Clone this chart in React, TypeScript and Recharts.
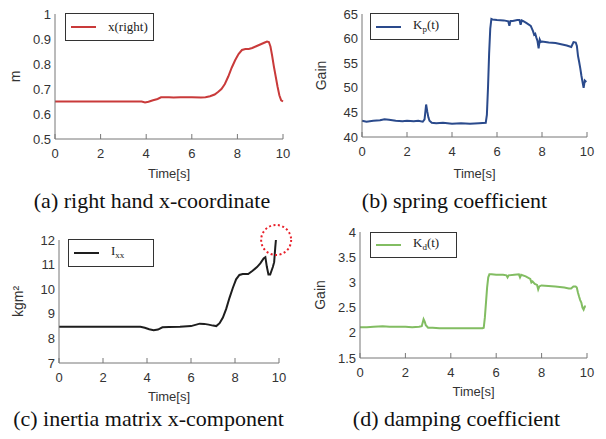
import React from "react";
import { LineChart, Line, XAxis, YAxis, Legend, ReferenceDot } from "recharts";

const timeTicks = [0, 2, 4, 6, 8, 10];

// (a) right hand x-coordinate [m]
const xRightTime = [
  0, 1, 2, 3, 3.8, 3.95, 4.1, 4.3, 4.5, 4.65, 5.0, 5.2, 5.5, 6.0, 6.4, 6.6, 6.8, 7.0, 7.15, 7.3, 7.45,
  7.6, 7.75, 7.9, 8.05, 8.2, 8.35, 8.5, 8.65, 8.8, 8.95, 9.1, 9.2, 9.3, 9.38, 9.45, 9.52, 9.6, 9.68,
  9.76, 9.84, 9.92, 10.0,
];
const xRightValues = [
  0.65, 0.65, 0.65, 0.65, 0.65, 0.646, 0.649, 0.655, 0.66, 0.667, 0.667, 0.666, 0.667, 0.667, 0.666,
  0.667, 0.671, 0.678, 0.688, 0.7, 0.72, 0.75, 0.785, 0.815, 0.84, 0.856, 0.86, 0.86, 0.864, 0.87,
  0.876, 0.882, 0.886, 0.89, 0.888, 0.87, 0.835, 0.79, 0.75, 0.71, 0.675, 0.655, 0.65,
];
const xRightTicks = [0.5, 0.6, 0.7, 0.8, 0.9, 1];

// (b) spring coefficient Kp(t)
const kpTime = [
  0, 0.2, 0.5, 0.8, 1.0, 1.2, 1.5, 1.8, 2.0, 2.3, 2.5, 2.7, 2.78, 2.85, 2.9, 2.95, 3.0, 3.1, 3.3, 3.6,
  4.0, 4.4, 4.8, 5.2, 5.5, 5.55, 5.6, 5.65, 5.7, 5.75, 5.8, 6.0, 6.3, 6.5, 6.55, 6.6, 6.7, 6.9, 7.0,
  7.05, 7.1, 7.15, 7.3, 7.5, 7.6, 7.65, 7.7, 7.75, 7.8, 7.85, 7.9, 7.95, 8.0, 8.3, 8.6, 8.9, 9.1, 9.3,
  9.4, 9.5, 9.55, 9.6, 9.65, 9.7, 9.75, 9.8, 9.85, 9.9, 9.97,
];
const kpValues = [
  43.3, 43.1, 43.3, 43.4, 43.6, 43.5, 43.3, 43.2, 43.3, 43.2, 43.3, 43.1, 43.6, 46.6, 45.2, 44.0, 43.3,
  42.9, 42.8, 42.9, 42.7, 42.8, 42.7, 42.8, 42.9, 44.5, 50, 57, 62, 64, 63.9, 63.8, 63.7, 63.5, 62.6,
  63.6, 63.6, 63.8, 63.8, 62.8, 63.7, 63.6, 63.2, 62.6, 61.5, 60.8, 61.0, 60.2, 59.5, 58.0, 59.8, 59.3,
  59.4, 59.2, 59.1, 58.8, 58.6, 58.3, 59.3, 59.2, 58.5, 56.5, 55.3, 54.0, 52.5, 51.2, 50.0, 51.5, 51.2,
];
const kpTicks = [40, 45, 50, 55, 60, 65];

// (c) inertia matrix x-component Ixx [kgm^2]
const ixxTime = [
  0, 1, 2, 3, 3.7, 3.9, 4.1, 4.3, 4.5, 4.7, 5.0, 5.5, 6.0, 6.2, 6.4, 6.6, 6.8, 7.0, 7.15, 7.3, 7.45,
  7.6, 7.75, 7.9, 8.05, 8.2, 8.35, 8.6, 8.8, 9.0, 9.15, 9.3, 9.38, 9.45, 9.52, 9.6, 9.66, 9.72, 9.78,
  9.83, 9.86,
];
const ixxValues = [
  8.47, 8.47, 8.47, 8.47, 8.47, 8.43, 8.37, 8.33, 8.36, 8.45, 8.46, 8.47, 8.5, 8.55, 8.6, 8.59, 8.56,
  8.52, 8.5, 8.62, 8.85, 9.2, 9.65, 10.05, 10.4, 10.58, 10.62, 10.62, 10.75, 10.9, 11.05, 11.25, 11.3,
  10.9, 10.6, 10.6, 10.75, 10.9, 11.1, 11.7, 12.0,
];
const ixxTicks = [7, 8, 9, 10, 11, 12];

// (d) damping coefficient Kd(t)
const kdTime = [
  0, 0.3, 0.6, 1.0, 1.3, 1.6, 2.0, 2.3, 2.6, 2.72, 2.8, 2.85, 2.9, 3.0, 3.2, 3.5, 4.0, 4.5, 5.0, 5.4,
  5.45, 5.5, 5.55, 5.6, 5.65, 5.7, 5.8, 6.0, 6.3, 6.45, 6.5, 6.55, 6.8, 7.0, 7.05, 7.1, 7.3, 7.5, 7.55,
  7.6, 7.7, 7.8, 7.85, 7.9, 7.95, 8.0, 8.3, 8.6, 9.0, 9.2, 9.3, 9.4, 9.5, 9.55, 9.6, 9.65, 9.7, 9.75,
  9.8, 9.85, 9.9, 9.95,
];
const kdValues = [
  2.11, 2.11, 2.12, 2.13, 2.12, 2.12, 2.12, 2.11, 2.12, 2.13, 2.27, 2.22, 2.15, 2.1, 2.1, 2.09, 2.09,
  2.09, 2.09, 2.09, 2.1, 2.3, 2.6, 2.9, 3.1, 3.16, 3.16, 3.15, 3.15, 3.14, 3.1, 3.14, 3.15, 3.16, 3.1,
  3.15, 3.12, 3.07, 3.0, 3.02, 2.97, 2.95, 2.86, 2.92, 2.93, 2.94, 2.93, 2.92, 2.9, 2.88, 2.88, 2.92,
  2.92, 2.9, 2.8, 2.72, 2.65, 2.6, 2.5, 2.46, 2.52, 2.52,
];
const kdTicks = [1.5, 2, 2.5, 3, 3.5, 4];

const toRows = (time: number[], values: number[]) => time.map((t, i) => ({ t, v: values[i] }));

const axisColor = "#777";
const textColor = "#333";
const sans = "'Liberation Sans', Arial, sans-serif";
const serif = "'Liberation Serif', 'Times New Roman', serif";
const tickGap = 10;

const XTick = (props: any) => {
  const { x, y, payload } = props;
  return (
    <g>
      <line x1={x} x2={x} y1={y - tickGap} y2={y - tickGap - 5} stroke={axisColor} />
      <text x={x} y={y} dy="0.71em" textAnchor="middle" fontSize={13} fontFamily={sans} fill={textColor}>
        {payload.value}
      </text>
    </g>
  );
};

const YTick = (props: any) => {
  const { x, y, payload } = props;
  return (
    <text x={x} y={y} dy="0.355em" textAnchor="end" fontSize={13} fontFamily={sans} fill={textColor}>
      {payload.value}
    </text>
  );
};

interface Box {
  left: number;
  top: number;
  width: number;
  height: number;
}

interface PanelProps {
  box: Box;
  rows: { t: number; v: number }[];
  color: string;
  yDomain: [number, number];
  yTicks: number[];
  yLabel: string;
  marginTop: number;
  marginRight: number;
  yAxisWidth: number;
  xAxisHeight: number;
  yLabelOffset: number;
  xLabelOffset: number;
  legendBox: Box;
  legendLabel: React.ReactNode;
  children?: React.ReactNode;
}

function Panel(p: PanelProps) {
  const legend = () => (
    <div
      style={{
        boxSizing: "border-box",
        width: p.legendBox.width,
        height: p.legendBox.height,
        border: "1px solid #333",
        background: "#fff",
        display: "flex",
        alignItems: "center",
      }}
    >
      <div style={{ width: 25, height: 2, marginLeft: 5, background: p.color }} />
      <span style={{ marginLeft: 12, fontFamily: serif, fontSize: 13, color: "#222", lineHeight: "14px" }}>
        {p.legendLabel}
      </span>
    </div>
  );

  return (
    <div style={{ position: "absolute", left: p.box.left, top: p.box.top }}>
      <LineChart
        width={p.box.width}
        height={p.box.height}
        data={p.rows}
        margin={{ top: p.marginTop, right: p.marginRight, left: 0, bottom: 0 }}
      >
        <XAxis
          dataKey="t"
          type="number"
          domain={[0, 10]}
          ticks={timeTicks}
          height={p.xAxisHeight}
          stroke={axisColor}
          tickLine={false}
          tickSize={0}
          tickMargin={tickGap}
          tick={<XTick />}
          label={{
            value: "Time[s]",
            position: "insideBottom",
            offset: p.xLabelOffset,
            style: { fontSize: 13, fontFamily: sans, fill: textColor },
          }}
        />
        <YAxis
          type="number"
          domain={p.yDomain}
          ticks={p.yTicks}
          width={p.yAxisWidth}
          stroke={axisColor}
          tickLine={false}
          tickSize={0}
          tickMargin={4}
          tick={<YTick />}
          label={{
            value: p.yLabel,
            angle: -90,
            position: "insideLeft",
            offset: p.yLabelOffset,
            style: { textAnchor: "middle", fontSize: 14, fontFamily: sans, fill: textColor },
          }}
        />
        <Legend
          layout="horizontal"
          verticalAlign="middle"
          align="center"
          content={legend}
          wrapperStyle={{
            left: p.legendBox.left,
            top: p.legendBox.top,
            width: p.legendBox.width,
            height: p.legendBox.height,
          }}
        />
        <Line
          type="linear"
          dataKey="v"
          stroke={p.color}
          strokeWidth={2}
          dot={false}
          isAnimationActive={false}
          legendType="line"
        />
        {p.children}
      </LineChart>
    </div>
  );
}

const subStyle: React.CSSProperties = { fontSize: 9, verticalAlign: -3 };

const captionStyle: React.CSSProperties = {
  position: "absolute",
  fontFamily: serif,
  fontSize: 22,
  lineHeight: "22px",
  color: "#111",
  textAlign: "center",
  whiteSpace: "nowrap",
};

export default function App() {
  return (
    <div
      style={{
        position: "absolute",
        left: 0,
        top: 0,
        width: 606,
        height: 439,
        background: "#fff",
        overflow: "hidden",
      }}
    >
      <Panel
        box={{ left: 0, top: 0, width: 300, height: 185 }}
        rows={toRows(xRightTime, xRightValues)}
        color="#c93a3a"
        yDomain={[0.5, 1]}
        yTicks={xRightTicks}
        yLabel="m"
        marginTop={14}
        marginRight={17}
        yAxisWidth={55}
        xAxisHeight={46}
        yLabelOffset={15}
        xLabelOffset={7}
        legendBox={{ left: 65, top: 13, width: 89, height: 28 }}
        legendLabel="x(right)"
      />
      <Panel
        box={{ left: 300, top: 0, width: 306, height: 185 }}
        rows={toRows(kpTime, kpValues)}
        color="#2a4a8c"
        yDomain={[40, 65]}
        yTicks={kpTicks}
        yLabel="Gain"
        marginTop={14}
        marginRight={19}
        yAxisWidth={62}
        xAxisHeight={48}
        yLabelOffset={21}
        xLabelOffset={7}
        legendBox={{ left: 70, top: 13, width: 89, height: 27 }}
        legendLabel={
          <>
            K<sub style={subStyle}>p</sub>(t)
          </>
        }
      />
      <Panel
        box={{ left: 0, top: 215, width: 300, height: 190 }}
        rows={toRows(ixxTime, ixxValues)}
        color="#1e1e1e"
        yDomain={[7, 12]}
        yTicks={ixxTicks}
        yLabel="kgm²"
        marginTop={25}
        marginRight={21}
        yAxisWidth={59}
        xAxisHeight={42}
        yLabelOffset={18}
        xLabelOffset={4}
        legendBox={{ left: 68, top: 24, width: 86, height: 28 }}
        legendLabel={
          <>
            I<sub style={subStyle}>xx</sub>
          </>
        }
      >
        <ReferenceDot
          x={9.87}
          y={12}
          r={15}
          fill="none"
          stroke="#e8202a"
          strokeWidth={2}
          strokeDasharray="2 2.5"
          ifOverflow="visible"
        />
      </Panel>
      <Panel
        box={{ left: 300, top: 215, width: 306, height: 190 }}
        rows={toRows(kdTime, kdValues)}
        color="#82bd62"
        yDomain={[1.5, 4]}
        yTicks={kdTicks}
        yLabel="Gain"
        marginTop={17}
        marginRight={19}
        yAxisWidth={60}
        xAxisHeight={47}
        yLabelOffset={20}
        xLabelOffset={9}
        legendBox={{ left: 70, top: 17, width: 87, height: 26 }}
        legendLabel={
          <>
            K<sub style={subStyle}>d</sub>(t)
          </>
        }
      />
      <div style={{ ...captionStyle, left: 0, top: 190, width: 304 }}>(a) right hand x-coordinate</div>
      <div style={{ ...captionStyle, left: 303, top: 190, width: 303 }}>(b) spring coefficient</div>
      <div style={{ ...captionStyle, left: 0, top: 408, width: 297 }}>(c) inertia matrix x-component</div>
      <div style={{ ...captionStyle, left: 303, top: 408, width: 307 }}>(d) damping coefficient</div>
    </div>
  );
}
